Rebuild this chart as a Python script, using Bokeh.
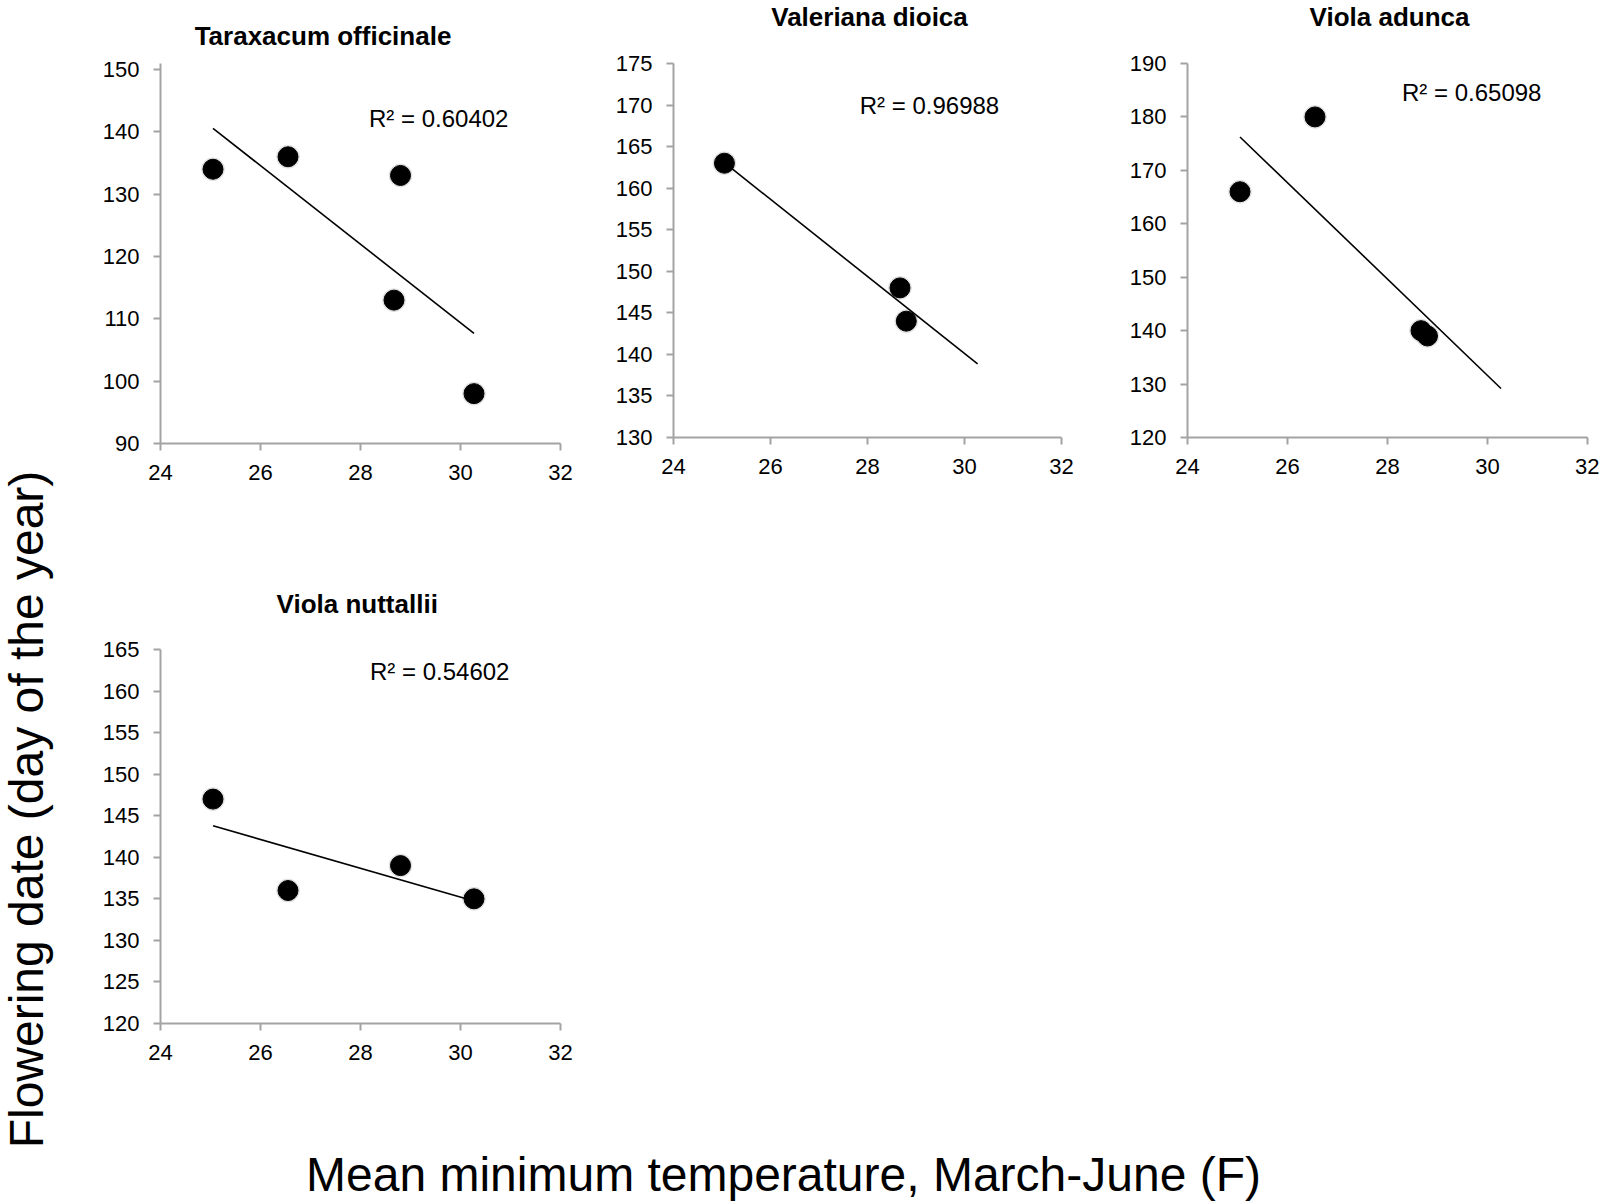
import numpy as np
from bokeh.plotting import figure
from bokeh.layouts import row, column
from bokeh.models import Range1d, FixedTicker
from bokeh.core.properties import value
from bokeh.embed import file_html
from bokeh.resources import INLINE

# ---------------- data ----------------
temps = [25.05, 26.55, 28.67, 28.80, 30.27]          # mean min temperature (F)
taraxacum = [134, 136, 113, 133, 98]
valeriana = [163, None, 148, 144, None]
viola_adunca = [166, 180, 140, 139, None]
viola_nuttallii = [147, 136, None, 139, 135]

species = ["Taraxacum officinale", "Valeriana dioica", "Viola adunca", "Viola nuttallii"]
r2_labels = ["R² = 0.60402", "R² = 0.96988", "R² = 0.65098", "R² = 0.54602"]

x_ticks = [24, 26, 28, 30, 32]
y_ticks_taraxacum = [90, 100, 110, 120, 130, 140, 150]
y_ticks_valeriana = [130, 135, 140, 145, 150, 155, 160, 165, 170, 175]
y_ticks_adunca = [120, 130, 140, 150, 160, 170, 180, 190]
y_ticks_nuttallii = [120, 125, 130, 135, 140, 145, 150, 155, 160, 165]

y_label = "Flowering date (day of the year)"
x_label = "Mean minimum temperature, March-June (F)"

# ---------------- style ----------------
FONT = "Liberation Sans"
AXIS_GRAY = "#a3a3a3"


def blank(w, h):
    p = figure(frame_width=w, frame_height=h, min_border=0,
               x_range=Range1d(0, w), y_range=Range1d(0, h),
               x_axis_location=None, y_axis_location=None,
               output_backend="svg", toolbar_location=None, tools="")
    p.xgrid.visible = False
    p.ygrid.visible = False
    p.outline_line_color = None
    return p


def panel(y_vals, yticks, y_top, r2, r2_x, r2_y, frame_w, frame_h, left, right, top, bottom):
    p = figure(frame_width=frame_w, frame_height=frame_h,
               min_border_left=left, min_border_right=right,
               min_border_top=top, min_border_bottom=bottom,
               x_range=Range1d(x_ticks[0], x_ticks[-1]),
               y_range=Range1d(yticks[0], y_top),
               output_backend="svg", toolbar_location=None, tools="")
    p.xgrid.visible = False
    p.ygrid.visible = False
    p.outline_line_color = None
    p.xaxis.ticker = FixedTicker(ticks=x_ticks)
    p.yaxis.ticker = FixedTicker(ticks=yticks)
    for ax in (p.xaxis, p.yaxis):
        ax.axis_line_color = AXIS_GRAY
        ax.axis_line_width = 2
        ax.major_tick_line_color = AXIS_GRAY
        ax.major_tick_line_width = 2
        ax.major_tick_in = 0
        ax.major_tick_out = 7
        ax.minor_tick_line_color = None
        ax.major_label_text_font = FONT
        ax.major_label_text_font_size = "22px"
        ax.major_label_text_color = "black"
    p.xaxis.major_label_standoff = 14
    p.yaxis.major_label_standoff = 14

    pts = [(t, v) for t, v in zip(temps, y_vals) if v is not None]
    xs = [a for a, _ in pts]
    ys = [b for _, b in pts]
    slope, intercept = np.polyfit(xs, ys, 1)
    x_line = [min(temps), max(temps)]
    y_line = [slope * x + intercept for x in x_line]
    p.line(x_line, y_line, line_color="black", line_width=1.6)
    p.scatter(xs, ys, size=23, color="#000000", alpha=0.08)
    p.scatter(xs, ys, size=20, color="black")
    p.text(x=[r2_x], y=[r2_y], text=[r2], text_font=value(FONT),
           text_font_size="24px", text_color="black",
           text_align="left", text_baseline="alphabetic")
    return p


f1 = panel(taraxacum, y_ticks_taraxacum, 150.963, r2_labels[0], 28.17, 142.1,
           400, 380, 104, 20, 11, 47)
f2 = panel(valeriana, y_ticks_valeriana, 175, r2_labels[1], 27.84, 170.0,
           388, 374, 93, 20, 11, 47)
f3 = panel(viola_adunca, y_ticks_adunca, 190, r2_labels[2], 28.29, 184.5,
           400, 374, 106, 12, 11, 47)
f4 = panel(viola_nuttallii, y_ticks_nuttallii, 165, r2_labels[3], 28.19, 162.4,
           400, 374, 104, 20, 19, 77)

STRIP_W = 1419

strip1 = blank(STRIP_W, 52)
strip1.text(x=[162.5, 709, 1229], y=[17, 36, 36], text=species[:3],
            text_font=value(FONT), text_font_style="bold", text_font_size="26px",
            text_color="black", text_align="center", text_baseline="alphabetic")

strip2 = blank(STRIP_W, 140)
strip2.text(x=[196.7], y=[27], text=[species[3]],
            text_font=value(FONT), text_font_style="bold", text_font_size="26px",
            text_color="black", text_align="center", text_baseline="alphabetic")

xlab = blank(STRIP_W, 104)
xlab.text(x=[623], y=[30.5], text=[x_label], text_font=value(FONT),
          text_font_size="48px", text_color="black",
          text_align="center", text_baseline="alphabetic")

ylab = blank(56, 1204)
ylab.text(x=[26], y=[395], text=[y_label], angle=np.pi / 2, text_font=value(FONT),
          text_font_size="48px", text_color="black",
          text_align="center", text_baseline="alphabetic")

layout = row(ylab, column(strip1, row(f1, f2, f3), strip2, f4, xlab))

open("out.html", "w").write(file_html(layout, INLINE))
